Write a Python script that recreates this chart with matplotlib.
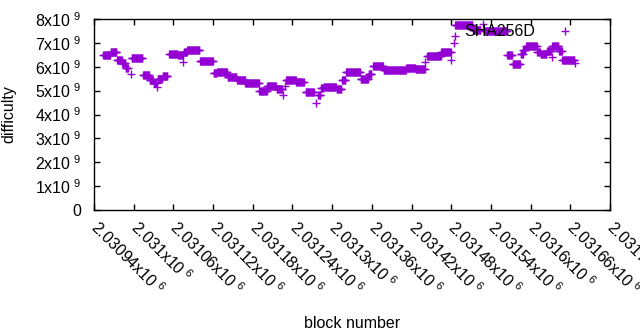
import matplotlib
matplotlib.use('Agg')
import matplotlib.pyplot as plt
import numpy as np
from matplotlib.ticker import FuncFormatter, MultipleLocator

# RUNS OF BLOCKS THAT SHARE THE SAME DIFFICULTY (FIRST BLOCK, LAST BLOCK, DIFFICULTY IN 1e9)
run_start = [2030954, 2030965, 2030975, 2030983, 2030988, 2030996, 2030997, 2031014, 2031024, 2031030,
             2031035, 2031036, 2031044, 2031054, 2031067, 2031075, 2031076, 2031081, 2031100, 2031121,
             2031126, 2031142, 2031156, 2031169, 2031190, 2031202, 2031216, 2031225, 2031229, 2031230,
             2031246, 2031260, 2031275, 2031279, 2031283, 2031287, 2031307, 2031315, 2031321, 2031343,
             2031355, 2031362, 2031378, 2031412, 2031426, 2031441, 2031444, 2031465, 2031480, 2031484,
             2031485, 2031486, 2031513, 2031528, 2031531, 2031565, 2031573, 2031585, 2031589, 2031593,
             2031610, 2031615, 2031625, 2031632, 2031633, 2031643, 2031648, 2031667]
run_end = [2030964, 2030974, 2030982, 2030987, 2030991, 2030996, 2031013, 2031023, 2031029, 2031034,
           2031035, 2031043, 2031051, 2031066, 2031074, 2031075, 2031080, 2031099, 2031120, 2031125,
           2031141, 2031155, 2031168, 2031189, 2031201, 2031215, 2031224, 2031225, 2031229, 2031245,
           2031257, 2031272, 2031275, 2031282, 2031286, 2031306, 2031314, 2031320, 2031342, 2031354,
           2031359, 2031377, 2031411, 2031425, 2031440, 2031441, 2031464, 2031479, 2031480, 2031484,
           2031485, 2031512, 2031524, 2031528, 2031564, 2031572, 2031584, 2031588, 2031592, 2031609,
           2031614, 2031624, 2031631, 2031632, 2031642, 2031647, 2031666, 2031667]
run_difficulty = [6.50, 6.60, 6.30, 6.15, 5.95, 5.70, 6.37, 5.65, 5.45, 5.30,
                  5.15, 5.50, 5.62, 6.55, 6.50, 6.20, 6.60, 6.70, 6.25, 5.75,
                  5.80, 5.55, 5.45, 5.30, 5.00, 5.20, 5.05, 4.80, 5.20, 5.45,
                  5.35, 4.95, 4.50, 4.80, 5.10, 5.15, 5.05, 5.45, 5.80, 5.50,
                  5.70, 6.05, 5.85, 5.95, 5.90, 6.20, 6.45, 6.60, 6.30, 7.00,
                  7.30, 7.75, 7.55, 7.80, 7.50, 6.50, 6.10, 6.55, 6.70, 6.85,
                  6.60, 6.55, 6.65, 6.40, 6.85, 6.65, 6.28, 6.15]

x_min = 2030940
x_max = 2031720
x_step = 60


def main():
    plt.rcParams['font.family'] = ['Liberation Sans', 'DejaVu Sans']
    plt.rcParams['mathtext.fontset'] = 'custom'
    plt.rcParams['mathtext.rm'] = 'Liberation Sans'
    plt.rcParams['font.size'] = 11.5

    # ONE POINT PER BLOCK INSIDE EACH RUN
    blocks = []
    difficulty = []
    for i in range(len(run_start)):
        for b in range(run_start[i], run_end[i] + 1):
            blocks.append(b)
            difficulty.append(run_difficulty[i] * 1e9)

    fig = plt.figure(figsize=(6.4, 3.3), dpi=100)
    ax = fig.add_axes([94 / 640, 120 / 330, 516 / 640, 191 / 330])
    ax.plot(blocks, difficulty, '+', color='#9400D3', markersize=6,
            markeredgewidth=1, linestyle='none', label='SHA256D')

    ax.set_xlim(x_min, x_max)
    ax.set_ylim(0, 8e9)
    ax.xaxis.set_major_locator(MultipleLocator(x_step))
    ax.yaxis.set_major_locator(MultipleLocator(1e9))

    def x_fmt(v, pos):
        return f'{v / 1e6:g}x10$^{{\\ 6}}$'

    def y_fmt(v, pos):
        if v == 0:
            return '0'
        return f'{int(round(v / 1e9))}x10$^{{\\ 9}}$'

    ax.xaxis.set_major_formatter(FuncFormatter(x_fmt))
    ax.yaxis.set_major_formatter(FuncFormatter(y_fmt))
    ax.tick_params(direction='in', length=4, top=True, right=True, width=1)
    ax.tick_params(axis='y', pad=9)
    ax.tick_params(axis='x', pad=10)
    for lbl in ax.get_xticklabels():
        lbl.set_rotation(-45)
        lbl.set_ha('left')
        lbl.set_va('center')
        lbl.set_rotation_mode('anchor')
    for s in ax.spines.values():
        s.set_linewidth(1)

    ax.set_xlabel('block number')
    ax.set_ylabel('difficulty')
    ax.xaxis.set_label_coords(0.5, -0.555)
    ax.yaxis.set_label_coords(-0.15, 0.5)

    ax.legend(loc='upper right', bbox_to_anchor=(0.966, 1.03), frameon=False,
              markerfirst=False, handlelength=2, handletextpad=0.9, borderpad=0.2)

    fig.savefig('out.png', dpi=100)


if __name__ == '__main__':
    main()
